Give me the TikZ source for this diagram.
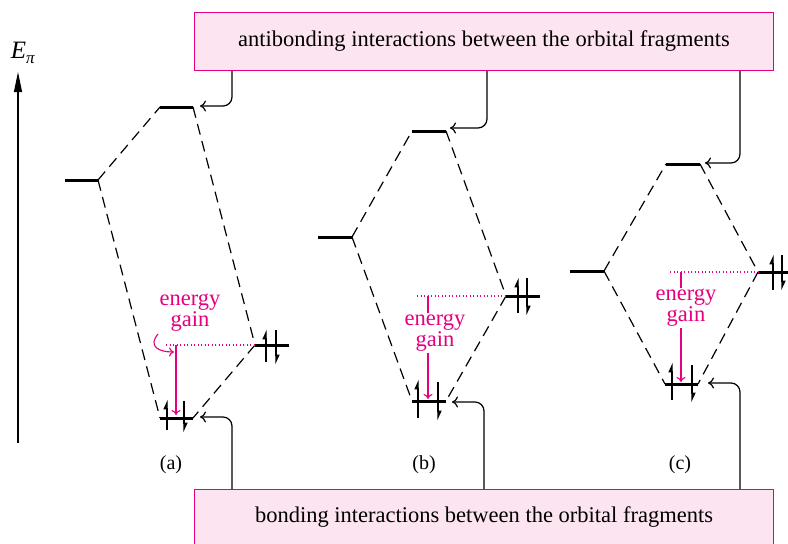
\documentclass[tikz,border=0pt]{standalone}
\usepackage{fontspec}
\setmainfont{Liberation Serif}
\usetikzlibrary{arrows.meta}
\definecolor{mag}{RGB}{228,0,127}
\definecolor{pinkfill}{RGB}{252,228,240}
\begin{document}
\begin{tikzpicture}[x=1pt,y=-1pt,
  level/.style={line width=3pt},
  dline/.style={line width=1.2pt,dash pattern=on 11pt off 6.5pt},
  eup/.style={line width=1.1pt,-{Triangle[harpoon,length=8pt,width=7pt]}},
  conn/.style={line width=1.2pt,rounded corners=9pt,-{Computer Modern Rightarrow[length=6pt,width=11pt]}},
  dotl/.style={mag,line width=1.3pt,dash pattern=on 1.3pt off 2.2pt},
  gainarr/.style={mag,line width=1.1pt,-{Computer Modern Rightarrow[length=5pt,width=9pt]}},
  gaintxt/.style={mag,font=\fontsize{22.5}{21}\selectfont,align=center,inner sep=1pt},
  box/.style={draw=mag,fill=pinkfill,line width=1pt,inner sep=0pt,font=\fontsize{22.5}{22.5}\selectfont},
  lab/.style={font=\fontsize{20}{20}\selectfont}
]
\useasboundingbox (0,0) rectangle (788,544);

% axis
\coordinate (ax0) at (18,443);
\coordinate (ax1) at (18,72);
\draw[line width=1.1pt,-{Triangle[length=20pt,width=8pt]}] (ax0) -- (ax1);
\node[font=\fontsize{25}{25}\selectfont,inner sep=0pt] (Epi) at (23,53) {\textit{E}\raisebox{-5pt}{\fontsize{17}{17}\selectfont\textit{π}}};

% boxes
\node[box,minimum width=579pt,minimum height=58pt,anchor=north west] (topbox) at (194,12) {antibonding interactions between the orbital fragments};
\node[box,minimum width=579pt,minimum height=56pt,anchor=north west] (botbox) at (194,489) {bonding interactions between the orbital fragments};

% ---------- (a)
\coordinate (aL1) at (65,180);  \coordinate (aL2) at (98,180);
\coordinate (aT1) at (160,107); \coordinate (aT2) at (193,107);
\coordinate (aR1) at (255,345); \coordinate (aR2) at (289,345);
\coordinate (aB1) at (160,418); \coordinate (aB2) at (193,418);
\draw[level] (aL1) -- (aL2); \draw[level] (aT1) -- (aT2);
\draw[level] (aR1) -- (aR2); \draw[level] (aB1) -- (aB2);
\draw[dline] (aL2) -- (aT1); \draw[dline] (aT2) -- (aR1);
\draw[dline] (aL2) -- (aB1); \draw[dline] (aR1) -- (aB2);
\draw[eup] (167,430) -- (167,400); \draw[eup] (184,401) -- (184,432);
\draw[eup] (266,362) -- (266,330); \draw[eup] (276,330) -- (276,364);
\coordinate (aD) at (166,345);
\draw[dotl] (aD) -- (aR1);
\coordinate (aG0) at (176,345); \coordinate (aG1) at (176,415);
\draw[gainarr] (aG0) -- (aG1);
\node[gaintxt] (aGain) at (190,313) {energy\\gain};
\coordinate (aC0) at (158,334); \coordinate (aC1) at (174,352);
\draw[mag,line width=1.1pt,-{Computer Modern Rightarrow[length=5pt,width=9pt]}] (aC0) .. controls (148,346) and (158,352) .. (aC1);
\node[lab] (alab) at (171,465) {(a)};

% ---------- (b)
\coordinate (bL1) at (318,237); \coordinate (bL2) at (352,237);
\coordinate (bT1) at (412,131); \coordinate (bT2) at (446,131);
\coordinate (bR1) at (506,296); \coordinate (bR2) at (540,296);
\coordinate (bB1) at (412,401); \coordinate (bB2) at (446,401);
\draw[level] (bL1) -- (bL2); \draw[level] (bT1) -- (bT2);
\draw[level] (bR1) -- (bR2); \draw[level] (bB1) -- (bB2);
\draw[dline] (bL2) -- (bT1); \draw[dline] (bT2) -- (bR1);
\draw[dline] (bL2) -- (bB1); \draw[dline] (bR1) -- (bB2);
\draw[eup] (418,418) -- (418,380); \draw[eup] (438,382) -- (438,420);
\draw[eup] (518,313) -- (518,278); \draw[eup] (527,278) -- (527,315);
\coordinate (bD) at (417,296);
\draw[dotl] (bD) -- (bR1);
\coordinate (bG0) at (428,296); \coordinate (bG1) at (428,399);
\draw[gainarr] (bG0) -- (bG1);
\node[gaintxt,fill=white] (bGain) at (435,333) {energy\\gain};
\node[lab] (blab) at (424,465) {(b)};

% ---------- (c)
\coordinate (cL1) at (570,271); \coordinate (cL2) at (604,271);
\coordinate (cT1) at (666,164); \coordinate (cT2) at (700,164);
\coordinate (cR1) at (758,272); \coordinate (cR2) at (790,272);
\coordinate (cB1) at (665,384); \coordinate (cB2) at (698,384);
\draw[level] (cL1) -- (cL2); \draw[level] (cT1) -- (cT2);
\draw[level] (cR1) -- (cR2); \draw[level] (cB1) -- (cB2);
\draw[dline] (cL2) -- (cT1); \draw[dline] (cT2) -- (cR1);
\draw[dline] (cL2) -- (cB1); \draw[dline] (cR1) -- (cB2);
\draw[eup] (672,400) -- (672,363); \draw[eup] (692,365) -- (692,402);
\draw[eup] (773,290) -- (773,255); \draw[eup] (782,255) -- (782,290);
\coordinate (cD) at (670,272);
\draw[dotl] (cD) -- (cR1);
\coordinate (cG0) at (681,272); \coordinate (cG1) at (681,382);
\draw[gainarr] (cG0) -- (cG1);
\node[gaintxt,fill=white] (cGain) at (686,308) {energy\\gain};
\node[lab] (clab) at (680,465) {(c)};

% connectors
\coordinate (x1) at (232,0); \coordinate (x2) at (487,0); \coordinate (x3) at (740,0);
\coordinate (x2b) at (484,0);
\coordinate (aTa) at (200,106); \coordinate (bTa) at (450,128); \coordinate (cTa) at (705,163);
\coordinate (aBa) at (200,417); \coordinate (bBa) at (452,402); \coordinate (cBa) at (708,383);
\draw[conn] (topbox.south -| x1) |- (aTa);
\draw[conn] (topbox.south -| x2) |- (bTa);
\draw[conn] (topbox.south -| x3) |- (cTa);
\draw[conn] (botbox.north -| x1) |- (aBa);
\draw[conn] (botbox.north -| x2b) |- (bBa);
\draw[conn] (botbox.north -| x3) |- (cBa);
\end{tikzpicture}
\end{document}
